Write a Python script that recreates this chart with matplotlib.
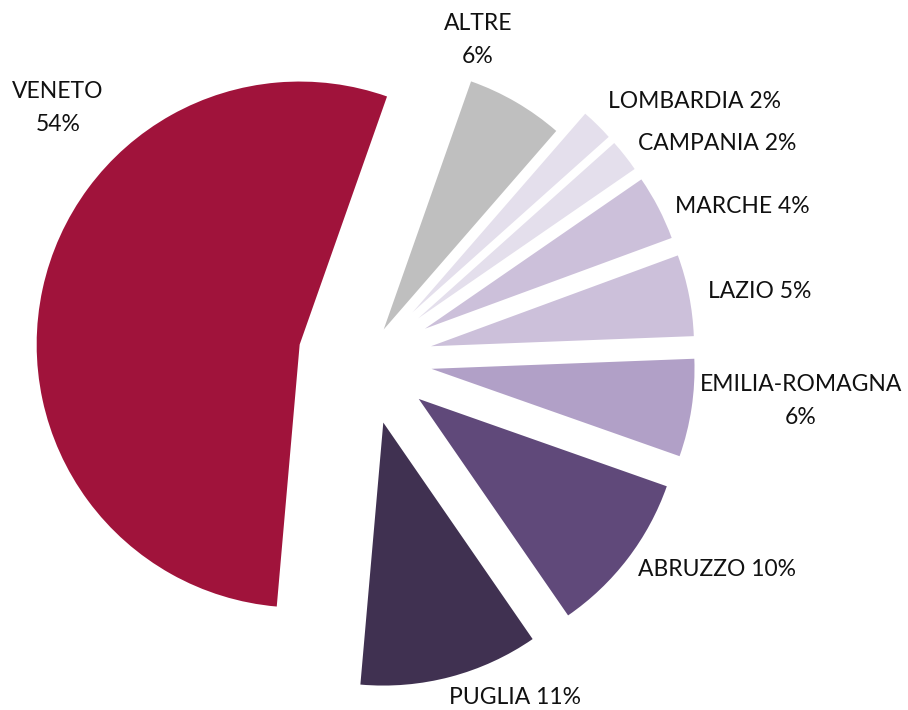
import matplotlib
matplotlib.use('Agg')
import matplotlib.pyplot as plt

# ---- data ----
regions = ['VENETO', 'ALTRE', 'LOMBARDIA', 'CAMPANIA', 'MARCHE', 'LAZIO',
           'EMILIA-ROMAGNA', 'ABRUZZO', 'PUGLIA']
shares = [54, 6, 2, 2, 4, 5, 6, 10, 11]
label_texts = ['VENETO\n54%', 'ALTRE\n6%', 'LOMBARDIA 2%', 'CAMPANIA 2%',
               'MARCHE 4%', 'LAZIO 5%', 'EMILIA-ROMAGNA\n6%', 'ABRUZZO 10%',
               'PUGLIA 11%']

# ---- style / layout ----
colors = ['#A0133B', '#BFBFBF', '#E4DFEC', '#E4DFEC', '#CCC0DA', '#CCC0DA',
          '#B1A0C7', '#60497A', '#403151']
explode = [0.26, 0.13, 0.25, 0.25, 0.25, 0.25, 0.25, 0.25, 0.25]
# label centres in pixels from top-left of the 908x710 canvas
label_px = [(58, 108), (478, 40), (695, 102), (717, 143), (742, 206),
            (760, 292), (801, 401), (717, 570), (515, 697)]

W, H = 908, 710
CX, CY, R = 366.5, 359.0, 263.0   # pie centre (px) and radius (px)

plt.rcParams['font.family'] = ['Lato', 'DejaVu Sans']

fig = plt.figure(figsize=(W / 100, H / 100), dpi=100)
ax = fig.add_axes([0, 0, 1, 1])
ax.pie(shares, explode=explode, colors=colors, startangle=-95,
       counterclock=False, radius=1.0,
       wedgeprops=dict(linewidth=0, antialiased=True))
ax.set_xlim(-CX / R, (W - CX) / R)
ax.set_ylim(-(H - CY) / R, CY / R)
ax.set_aspect('equal')
ax.axis('off')

for txt, (px, py) in zip(label_texts, label_px):
    fig.text(px / W, 1 - py / H, txt, ha='center', va='center',
             multialignment='center', fontsize=16.5, color='#111111',
             linespacing=1.75)

fig.savefig('out.png', dpi=100, facecolor='white')
